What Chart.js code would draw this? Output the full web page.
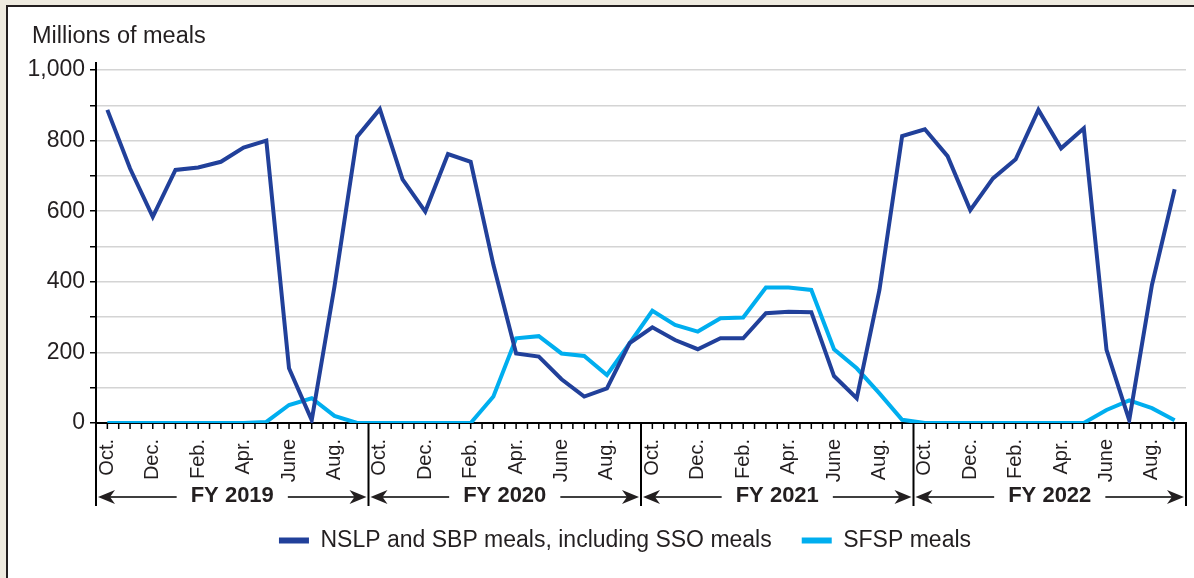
<!DOCTYPE html>
<html>
<head>
<meta charset="utf-8">
<script src="https://cdn.jsdelivr.net/npm/chart.js@4.4.1/dist/chart.umd.min.js"></script>
<style>
  html, body { margin: 0; padding: 0; }
  body { width: 1194px; height: 578px; background: #efebe0; position: relative; overflow: hidden; }
  #panel { position: absolute; left: 6px; top: 5px; width: 1200px; height: 600px; background: #fff; border-left: 2px solid #231f20; border-top: 2px solid #231f20; }
  #wrap { position: absolute; left: 0; top: 0; width: 1194px; height: 578px; }
</style>
</head>
<body>
<div id="panel"></div>
<div id="wrap"><canvas id="mealsChart" width="1194" height="578"></canvas></div>
<script>
// months of each fiscal year (Oct - Sep), every other one gets a label
var monthNames = ['Oct.', 'Nov.', 'Dec.', 'Jan.', 'Feb.', 'Mar.', 'Apr.', 'May', 'June', 'July', 'Aug.', 'Sep.'];
var fiscalYears = ['FY 2019', 'FY 2020', 'FY 2021', 'FY 2022'];
var yTicks = [0, 200, 400, 600, 800, 1000];

// NSLP and SBP meals, including SSO meals (millions)
var nslpMeals = [887, 721, 584, 717, 724, 740, 780, 800, 155, 8, 386, 811,
                 889, 690, 599, 762, 740, 448, 197, 188, 124, 75, 98, 226,
                 271, 235, 209, 240, 240, 311, 315, 314, 133, 70, 377, 813,
                 832, 756, 603, 693, 747, 887, 778, 835, 207, 8, 391, 662];
// SFSP meals (millions)
var sfspMeals = [0, 0, 0, 0, 0, 0, 0, 3, 51, 70, 20, 0,
                 0, 0, 0, 0, 0, 75, 240, 246, 197, 190, 136, 226,
                 318, 278, 259, 297, 299, 384, 384, 377, 209, 155, 84, 9,
                 0, 0, 0, 0, 0, 0, 0, 0, 37, 64, 42, 8];

var labels = [];
fiscalYears.forEach(function(fy){
    monthNames.forEach(function(m){ labels.push(m + ' ' + fy); });
});

var ink = '#231f20';
var fontFam = '"Liberation Sans", Arial, sans-serif';

function drawArrowHead(ctx, x, y, dir)
{
    // dir = -1 points left, 1 points right
    ctx.beginPath();
    ctx.moveTo(x, y);
    ctx.lineTo(x - dir * 17, y - 7);
    ctx.lineTo(x - dir * 12, y);
    ctx.lineTo(x - dir * 17, y + 7);
    ctx.closePath();
    ctx.fill();
}

var extrasPlugin = {
    id: 'extras',
    afterLayout: function(chart) {
        // legend sits a little right of the canvas centre
        chart.legend.left += 32;
        chart.legend.right += 32;
    },
    afterDraw: function(chart) {
        var ctx = chart.ctx;
        var xs = chart.scales.x;
        var area = chart.chartArea;
        var step = xs.getPixelForValue(1) - xs.getPixelForValue(0);
        var half = step / 2;
        ctx.save();
        // axis title
        ctx.fillStyle = ink;
        ctx.font = '23.5px ' + fontFam;
        ctx.textBaseline = 'middle';
        ctx.textAlign = 'left';
        ctx.fillText('Millions of meals', 32, 37);
        // y axis runs a bit above the top gridline
        ctx.strokeStyle = '#000';
        ctx.lineWidth = 2;
        ctx.beginPath();
        ctx.moveTo(area.left, area.top + 1);
        ctx.lineTo(area.left, area.top - 8);
        ctx.stroke();
        // little tick marks every half month under the axis
        ctx.lineWidth = 1.5;
        ctx.beginPath();
        for (var i = 0; i < labels.length; i++) {
            var px = xs.getPixelForValue(i);
            ctx.moveTo(px, area.bottom);
            ctx.lineTo(px, area.bottom + 6);
            if (i > 0 && i % 12 !== 0) {
                ctx.moveTo(px - half, area.bottom);
                ctx.lineTo(px - half, area.bottom + 6);
            }
        }
        ctx.stroke();
        // fiscal year dividers and arrows
        var yBot = area.bottom + 83;
        var yArr = area.bottom + 74;
        ctx.lineWidth = 2;
        ctx.beginPath();
        for (var f = 0; f <= fiscalYears.length; f++) {
            var dx = f < fiscalYears.length ? xs.getPixelForValue(f * 12) - half : xs.getPixelForValue(labels.length - 1) + half;
            ctx.moveTo(dx, area.bottom);
            ctx.lineTo(dx, yBot);
        }
        ctx.stroke();
        ctx.font = 'bold 22px ' + fontFam;
        ctx.textAlign = 'center';
        for (var k = 0; k < fiscalYears.length; k++) {
            var x0 = xs.getPixelForValue(k * 12) - half;
            var x1 = xs.getPixelForValue(k * 12 + 11) + half;
            var mid = (x0 + x1) / 2;
            var tw = ctx.measureText(fiscalYears[k]).width;
            ctx.fillText(fiscalYears[k], mid, yArr - 1);
            ctx.lineWidth = 1.5;
            ctx.beginPath();
            ctx.moveTo(x0 + 10, yArr);
            ctx.lineTo(mid - tw / 2 - 14, yArr);
            ctx.moveTo(mid + tw / 2 + 14, yArr);
            ctx.lineTo(x1 - 10, yArr);
            ctx.stroke();
            drawArrowHead(ctx, x0 + 2, yArr, -1);
            drawArrowHead(ctx, x1 - 2, yArr, 1);
        }
        ctx.restore();
    }
};

var ctx = document.getElementById('mealsChart');
var chart = new Chart(ctx, {
    type: 'line',
    data: {
        labels: labels,
        datasets: [{
            label: 'NSLP and SBP meals, including SSO meals',
            data: nslpMeals,
            borderColor: '#21409a',
            backgroundColor: '#21409a',
            borderWidth: 4,
            pointRadius: 0,
            tension: 0
        }, {
            label: 'SFSP meals',
            data: sfspMeals,
            borderColor: '#00aeef',
            backgroundColor: '#00aeef',
            borderWidth: 4,
            pointRadius: 0,
            tension: 0
        }]
    },
    options: {
        responsive: false,
        animation: false,
        layout: { padding: { top: 70, right: 8, left: 0, bottom: 16 } },
        plugins: {
            tooltip: { enabled: false },
            legend: {
                position: 'bottom',
                labels: {
                    color: ink,
                    font: { size: 23, family: fontFam },
                    boxWidth: 30,
                    boxHeight: 6,
                    padding: 30,
                    generateLabels: function(c) {
                        return c.data.datasets.map(function(ds, i) {
                            return { text: ds.label, fillStyle: ds.borderColor, strokeStyle: ds.borderColor, lineWidth: 0, datasetIndex: i, fontColor: ink };
                        });
                    }
                }
            }
        },
        scales: {
            x: {
                type: 'category',
                offset: true,
                grid: { display: false, drawTicks: false },
                border: { display: true, color: '#000', width: 2 },
                ticks: {
                    autoSkip: false,
                    minRotation: 90,
                    maxRotation: 90,
                    padding: 16,
                    color: ink,
                    font: { size: 20, family: fontFam },
                    callback: function(v, i) { return i % 2 === 0 ? monthNames[i % 12] : ''; }
                },
                afterFit: function(s) {
                    s.height = 76;
                    s.paddingLeft = 0;
                    s.paddingRight = 0;
                }
            },
            y: {
                min: 0,
                max: 1000,
                grid: { color: '#d4d4d4', lineWidth: 1.5, tickColor: '#000', tickLength: 6, drawTicks: true },
                border: { display: true, color: '#000', width: 2 },
                ticks: {
                    stepSize: 100,
                    padding: 5,
                    color: ink,
                    font: { size: 23, family: fontFam },
                    callback: function(v) { return yTicks.indexOf(v) >= 0 ? v.toLocaleString('en-US') : ''; }
                },
                afterFit: function(s) { s.width = 96; }
            }
        }
    },
    plugins: [extrasPlugin]
});
</script>
</body>
</html>
